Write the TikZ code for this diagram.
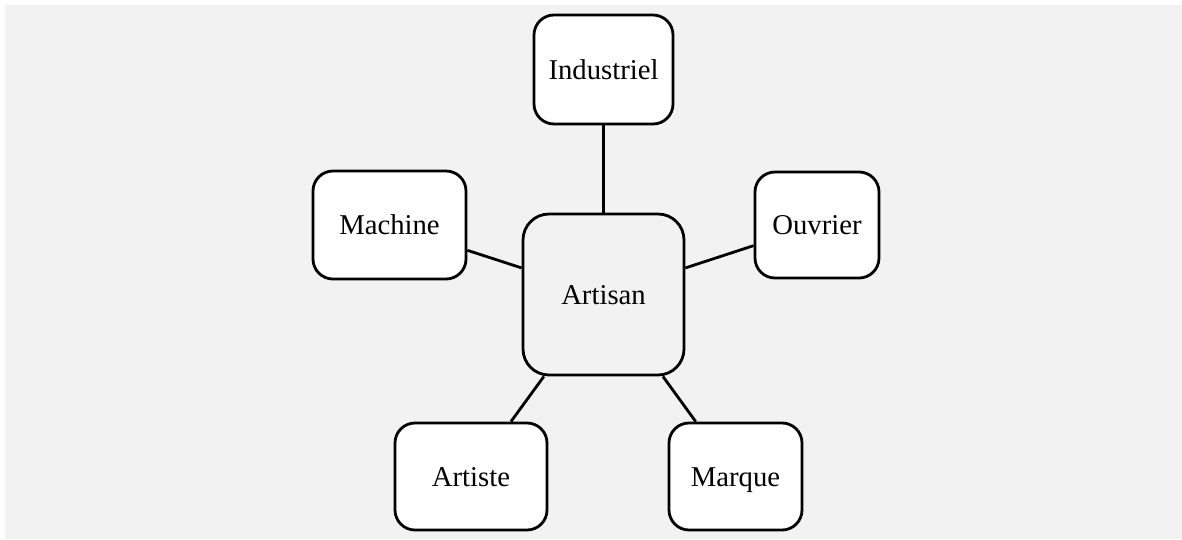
\documentclass[tikz,border=0pt]{standalone}
\usepackage{fontspec}
\setmainfont{Liberation Serif}
\definecolor{bggray}{HTML}{F2F2F2}
\tikzset{
  box/.style={draw=black, line width=2.8pt, rounded corners=20pt, fill=white, inner sep=0pt,
    text height=19pt, text depth=0pt,
    font=\fontsize{28.7}{34}\selectfont},
  hub/.style={box, fill=bggray, rounded corners=26pt},
  link/.style={draw=black, line width=2.8pt}
}
\begin{document}
\begin{tikzpicture}[x=1pt,y=-1pt]
\useasboundingbox (0,0) rectangle (1182,539);
\fill[bggray] (5,5) rectangle (1182,539);
\node[hub, minimum width=161pt, minimum height=161pt] (artisan) at (603.5,294.5) {Artisan};
\node[box, minimum width=139pt, minimum height=109pt] (industriel) at (603.5,69.5) {Industriel};
\node[box, minimum width=153pt, minimum height=108pt] (machine) at (389.5,225) {Machine};
\node[box, minimum width=124pt, minimum height=106pt] (ouvrier) at (817,225) {Ouvrier};
\node[box, minimum width=152pt, minimum height=107pt] (artiste) at (471,476.5) {Artiste};
\node[box, minimum width=133pt, minimum height=107pt] (marque) at (735.5,476.5) {Marque};
\draw[link] (industriel) -- (artisan);
\draw[link] (machine) -- (artisan);
\draw[link] (ouvrier) -- (artisan);
\draw[link] (artiste) -- (artisan);
\draw[link] (marque) -- (artisan);
\end{tikzpicture}
\end{document}
